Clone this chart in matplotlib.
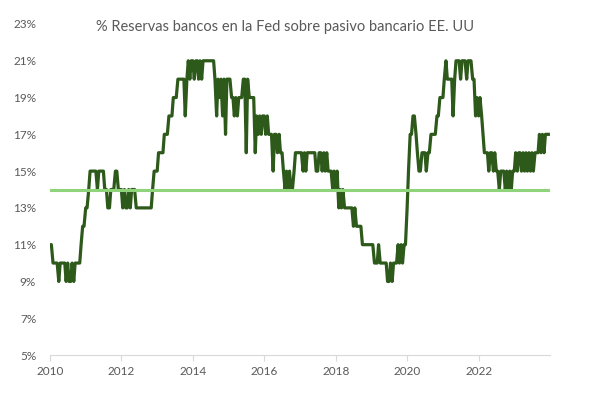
import numpy as np
import pandas as pd
import matplotlib
matplotlib.use("Agg")
from matplotlib import pyplot as plt
import matplotlib.dates as mdates

# % reserves at the Fed over bank liabilities, two readings per month
v2010 = [11, 11, 10, 10, 10, 10, 9, 10, 10, 10, 10, 9, 10, 9, 9, 10, 9, 10, 10, 10, 10, 11, 12, 12]
v2011 = [13, 13, 14, 15, 15, 15, 15, 15, 14, 15, 15, 15, 15, 14, 14, 13, 13, 14, 14, 14, 15, 15, 14, 14]
v2012 = [14, 13, 14, 13, 13, 14, 13, 14, 14, 14, 13, 13, 13, 13, 13, 13, 13, 13, 13, 13, 13, 14, 15, 15]
v2013 = [15, 16, 16, 16, 16, 17, 17, 17, 18, 18, 18, 19, 19, 19, 20, 20, 20, 20, 20, 18, 20, 21, 20, 21]
v2014 = [21, 20, 21, 21, 20, 21, 20, 21, 21, 21, 21, 21, 21, 21, 21, 20, 18, 20, 19, 20, 18, 20, 17, 20]
v2015 = [20, 20, 19, 19, 18, 19, 18, 19, 19, 19, 20, 20, 16, 20, 19, 19, 19, 19, 16, 18, 17, 18, 17, 18]
v2016 = [18, 17, 18, 17, 17, 17, 15, 17, 17, 16, 17, 16, 16, 15, 14, 15, 14, 15, 14, 14, 15, 16, 16, 16]
v2017 = [16, 16, 15, 16, 15, 16, 16, 16, 16, 16, 16, 15, 15, 16, 16, 15, 16, 15, 16, 15, 15, 15, 14, 15]
v2018 = [14, 15, 13, 14, 13, 14, 13, 13, 13, 13, 13, 13, 12, 13, 12, 12, 12, 12, 11, 11, 11, 11, 11, 11]
v2019 = [11, 11, 10, 10, 10, 11, 10, 10, 10, 10, 10, 9, 9, 10, 9, 10, 10, 10, 11, 10, 11, 10, 11, 11]
v2020 = [13, 15, 17, 17, 18, 18, 17, 16, 15, 15, 16, 16, 16, 15, 16, 16, 17, 17, 17, 17, 18, 18, 19, 19]
v2021 = [19, 20, 21, 20, 20, 20, 20, 18, 20, 21, 21, 21, 20, 21, 21, 21, 20, 21, 21, 21, 20, 20, 18, 19]
v2022 = [18, 19, 18, 17, 16, 16, 16, 15, 16, 16, 15, 16, 15, 15, 14, 15, 15, 15, 14, 15, 14, 15, 14, 15]
v2023 = [15, 16, 15, 16, 16, 15, 16, 15, 16, 15, 16, 15, 16, 15, 16, 16, 16, 17, 16, 17, 16, 17, 17, 17]

threshold = 14
yticks = [5, 7, 9, 11, 13, 15, 17, 19, 21, 23]
xtick_years = [2010, 2012, 2014, 2016, 2018, 2020, 2022]
title = "% Reservas bancos en la Fed sobre pasivo bancario EE. UU"

values = (v2010 + v2011 + v2012 + v2013 + v2014 + v2015 + v2016
          + v2017 + v2018 + v2019 + v2020 + v2021 + v2022 + v2023)
dates = pd.date_range("2010-01-01", periods=len(values), freq="SMS")

plt.rcParams["font.family"] = ["Lato", "DejaVu Sans"]

fig = plt.figure(figsize=(5.92, 3.98), dpi=100)
ax = fig.add_axes([50 / 592, 43 / 398, 500 / 592, 331 / 398])

ax.plot(dates, values, color="#2d5a1b", linewidth=2.3)
ax.axhline(threshold, color="#8fd47a", linewidth=2.2)

ax.set_ylim(5, 23)
ax.set_yticks(yticks)
ax.set_yticklabels([f"{t}%" for t in yticks])
ax.set_xlim(pd.Timestamp("2010-01-01"), pd.Timestamp("2024-01-01"))
ax.set_xticks([pd.Timestamp(f"{y}-01-01") for y in xtick_years])
ax.xaxis.set_major_formatter(mdates.DateFormatter("%Y"))

for s in ["top", "right", "left"]:
    ax.spines[s].set_visible(False)
ax.spines["bottom"].set_color("#d9d9d9")
ax.tick_params(axis="y", length=0, pad=10, labelsize=8.5, labelcolor="#595959")
ax.tick_params(axis="x", length=4, color="#d9d9d9", direction="out",
               pad=4, labelsize=8.5, labelcolor="#595959")

fig.text(285 / 592, 1 - 27 / 398, title, ha="center", va="center",
         fontsize=10.5, color="#595959")

fig.savefig("out.png", dpi=100)
